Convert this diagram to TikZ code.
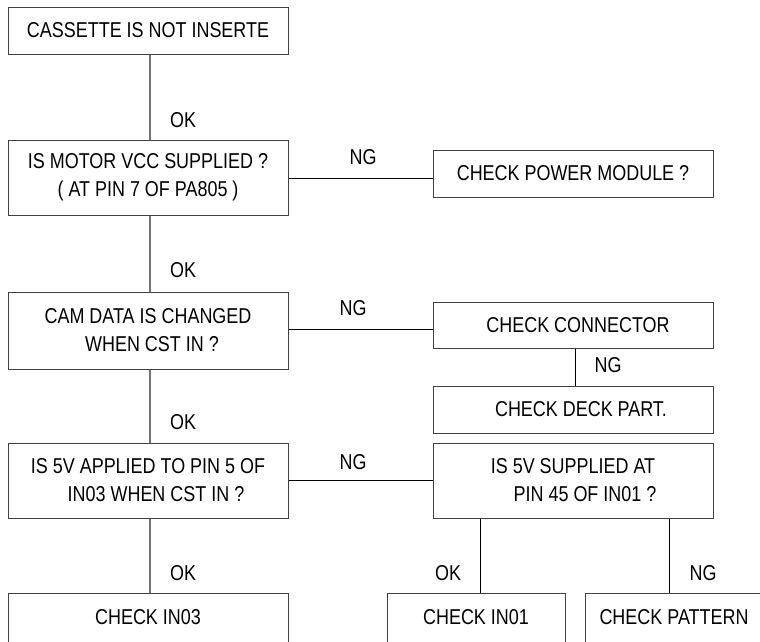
\documentclass[tikz,border=0pt]{standalone}
\usepackage{fontspec}
\setmainfont{Liberation Sans}[FakeStretch=0.835]
\usetikzlibrary{calc}
\begin{document}
\begin{tikzpicture}[x=1pt,y=-1pt,
  every node/.style={font=\fontsize{21.5}{28}\selectfont},
  box/.style={draw=black!75, line width=1pt, inner sep=0pt, minimum width=280pt, align=center},
  small/.style={box, minimum width=178pt},
  lab/.style={inner sep=0pt},
  vline/.style={draw=black!55, line width=1.3pt},
  hline/.style={draw=black, line width=0.8pt}]
\clip (0,0) rectangle (760,641);
\useasboundingbox (0,0) rectangle (760,641);
% left column
\node[box, minimum height=47pt] (b1) at (148,30.5) {CASSETTE IS NOT INSERTE};
\node[box, minimum height=75pt] (b2) at (148,177.5) {IS MOTOR VCC SUPPLIED ?\\( AT PIN 7 OF PA805 )};
\node[box, minimum height=77pt] (b3) at (148,330.5) {CAM DATA IS CHANGED\\\hspace*{8pt}WHEN CST IN ?};
\node[box, minimum height=75pt] (b4) at (148,480.5) {IS 5V APPLIED TO PIN 5 OF\\\hspace*{16pt}IN03 WHEN CST IN ?};
\node[box, minimum height=49pt] (b5) at (148,617.5) {CHECK IN03};
% right column
\node[box, minimum height=47pt] (p) at (573,173.5) {CHECK POWER MODULE ?};
\node[box, minimum height=46pt] (c) at (573,325) {\hspace*{10pt}CHECK CONNECTOR};
\node[box, minimum height=47pt] (d) at (573,409.5) {\hspace*{16pt}CHECK DECK PART.};
\node[box, minimum height=75pt] (q) at (573,480.5) {IS 5V SUPPLIED AT\\\hspace*{24pt}PIN 45 OF IN01 ?};
\node[small, minimum height=49pt] (i1) at (476,617.5) {CHECK IN01};
\node[small, minimum height=49pt] (pt) at (674,617.5) {CHECK PATTERN};
% connectors
\draw[vline] ($(b1.south)+(2,0)$) -- ($(b2.north)+(2,0)$);
\draw[vline] ($(b2.south)+(2,0)$) -- ($(b3.north)+(2,0)$);
\draw[vline] ($(b3.south)+(2,0)$) -- ($(b4.north)+(2,0)$);
\draw[vline] ($(b4.south)+(2,0)$) -- ($(b5.north)+(2,0)$);
\draw[hline] ($(b2.east)+(0,0.5)$) -- ($(p.west)+(0,4.5)$);
\coordinate (cj) at ($(c.west)+(0,4)$);
\draw[hline] (b3.east |- cj) -- (cj);
\draw[hline] ($(c.south)+(2,0)$) -- ($(d.north)+(2,0)$);
\draw[hline] (b4.east) -- (q.west);
\draw[hline] (q.south -| i1.north) ++(4,0) coordinate (qa) -- ($(i1.north)+(4,0)$);
\draw[hline] (q.south -| pt.north) ++(-5,0) coordinate (qb) -- ($(pt.north)+(-5,0)$);
% labels
\node[lab] (ok1) at (183,120) {OK};
\node[lab] (ok2) at (183,270) {OK};
\node[lab] (ok3) at (183,422) {OK};
\node[lab] (ok4) at (183,573) {OK};
\node[lab] (ng1) at (363,157) {NG};
\node[lab] (ng2) at (353,308) {NG};
\node[lab] (ng3) at (608,365) {NG};
\node[lab] (ng4) at (353,462) {NG};
\node[lab] (ok5) at (448,573) {OK};
\node[lab] (ng5) at (703,573) {NG};
\end{tikzpicture}
\end{document}
